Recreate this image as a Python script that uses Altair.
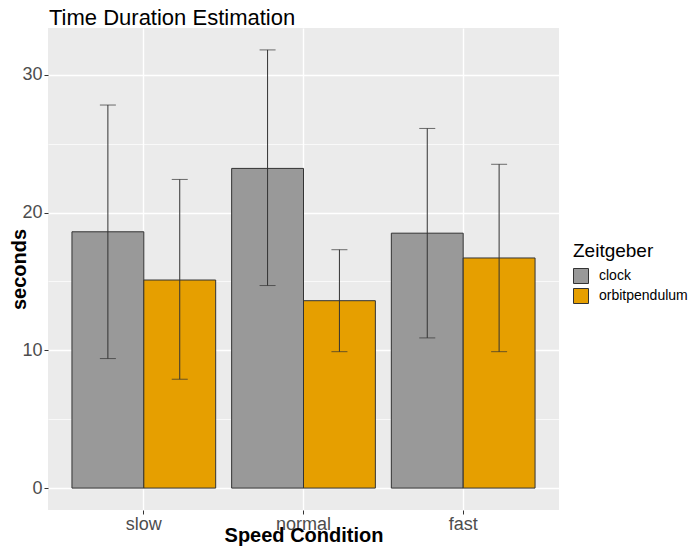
import altair as alt
import pandas as pd

speeds = ["slow", "normal", "fast"]
zeitgebers = ["clock", "orbitpendulum"]
mean_clock = [18.6, 23.2, 18.5]
mean_orbit = [15.1, 13.6, 16.7]
low_clock = [9.4, 14.7, 10.9]
high_clock = [27.8, 31.8, 26.1]
low_orbit = [7.9, 9.9, 9.9]
high_orbit = [22.4, 17.3, 23.5]
bar_colors = ["#999999", "#E69F00"]
y_ticks = [0, 5, 10, 15, 20, 25, 30]

rows = []
for i, s in enumerate(speeds):
    rows.append(dict(speed=s, zeitgeber="clock", mean=mean_clock[i], lo=low_clock[i], hi=high_clock[i]))
    rows.append(dict(speed=s, zeitgeber="orbitpendulum", mean=mean_orbit[i], lo=low_orbit[i], hi=high_orbit[i]))
df = pd.DataFrame(rows)

FONT = "Liberation Sans"
yscale = alt.Scale(domain=[-1.59, 33.39], nice=False, zero=False)

x_enc = alt.X(
    "speed:N", sort=speeds,
    scale=alt.Scale(paddingInner=0.1, paddingOuter=0.15),
    axis=alt.Axis(
        title="Speed Condition", labelAngle=0, bandPosition=0.5,
        grid=True, gridColor="white", gridWidth=1.4,
        domain=False, tickSize=4, tickColor="#333333", tickWidth=1,
        labelFontSize=18, labelColor="#4D4D4D", labelPadding=1, labelFont=FONT,
        titleFontSize=20, titleFontWeight="bold", titleColor="black", titleFont=FONT,
        titleBaseline="alphabetic", titleY=31.5,
    ),
)
xo_enc = alt.XOffset("zeitgeber:N", sort=zeitgebers, scale=alt.Scale(paddingInner=0, paddingOuter=0))

base = alt.Chart(df).encode(x=x_enc, xOffset=xo_enc)

bars = base.mark_bar(stroke="#333333", strokeWidth=1).encode(
    y=alt.Y(
        "mean:Q", scale=yscale,
        axis=alt.Axis(
            title="seconds", values=y_ticks,
            labelExpr="datum.value % 10 === 0 ? datum.label : ''",
            labelOverlap=False, labelFlush=False,
            grid=True, gridColor="white",
            gridWidth={"condition": {"test": "datum.value % 10 !== 0", "value": 0.7}, "value": 1.4},
            tickOpacity={"condition": {"test": "datum.value % 10 !== 0", "value": 0}, "value": 1},
            domain=False, tickSize=4, tickColor="#333333", tickWidth=1,
            labelFontSize=18, labelColor="#4D4D4D", labelPadding=2, labelFont=FONT,
            titleFontSize=20, titleFontWeight="bold", titleColor="black", titleFont=FONT,
            titleBaseline="alphabetic", titleX=-22.5, titleY=241, titleAlign="center", titleAngle=270,
        ),
    ),
    y2=alt.datum(0),
    color=alt.Color(
        "zeitgeber:N", sort=zeitgebers,
        scale=alt.Scale(domain=zeitgebers, range=bar_colors),
        legend=alt.Legend(
            title="Zeitgeber", orient="none", legendX=525, legendY=214,
            titleFontSize=19, titleFontWeight="normal", titleColor="black", titleFont=FONT,
            labelFontSize=14, labelColor="black", labelFont=FONT,
            symbolType="square", symbolSize=225, symbolStrokeColor="#333333",
            symbolStrokeWidth=1, symbolOpacity=1, rowPadding=0, labelOffset=10,
            titlePadding=7, padding=0,
        ),
    ),
)

rules = base.mark_rule(color="#333333", strokeWidth=1).encode(y=alt.Y("lo:Q", scale=yscale), y2="hi:Q")
cap_lo = base.mark_tick(color="#333333", thickness=1, size=16, orient="horizontal").encode(y=alt.Y("lo:Q", scale=yscale))
cap_hi = base.mark_tick(color="#333333", thickness=1, size=16, orient="horizontal").encode(y=alt.Y("hi:Q", scale=yscale))

chart = alt.layer(bars, rules, cap_lo, cap_hi).properties(
    width=511, height=482,
    autosize=alt.AutoSizeParams(type="none"),
    padding={"left": 40, "top": 20, "right": 132, "bottom": 38},
    title=alt.Title("Time Duration Estimation", anchor="start", frame="group",
                    fontSize=22, font=FONT, fontWeight="normal", color="black",
                    offset=-19, baseline="alphabetic", dx=1),
).configure(background="white").configure_view(fill="#EBEBEB", strokeWidth=0)

chart.save("out.html", embed_options={"renderer": "svg", "actions": False})
